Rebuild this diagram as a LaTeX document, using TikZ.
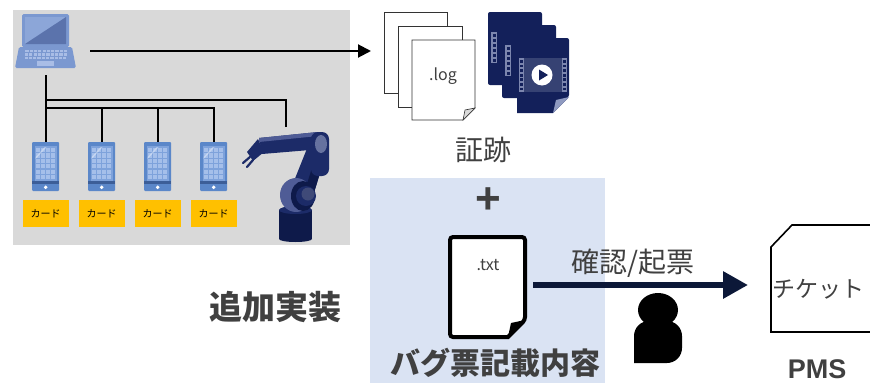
\documentclass[tikz,border=0pt]{standalone}
\usepackage{fontspec}
\setmainfont{Noto Sans CJK JP}
\newfontfamily\latinbold{Liberation Sans}
\usetikzlibrary{arrows.meta}

\definecolor{panelgray}{HTML}{D9D9D9}
\definecolor{panelblue}{HTML}{DAE3F3}
\definecolor{txtgray}{HTML}{404040}
\definecolor{lapmain}{HTML}{7B98D0}
\definecolor{lapdark}{HTML}{5B73AC}
\definecolor{laplight}{HTML}{8CA6D8}
\definecolor{lapkey}{HTML}{A9BDE6}
\definecolor{phmain}{HTML}{5B87C9}
\definecolor{phscreen}{HTML}{7EA2DB}
\definecolor{phcell}{HTML}{A5BFEA}
\definecolor{phstrip}{HTML}{3C5E98}
\definecolor{cardorange}{HTML}{FFC000}
\definecolor{vidnavy}{HTML}{13205A}
\definecolor{vidstrip}{HTML}{7C86AE}
\definecolor{vidfold}{HTML}{8F9AC0}
\definecolor{arrnavy}{HTML}{0C1838}
\definecolor{robdark}{HTML}{0E1A4A}
\definecolor{robmid}{HTML}{1C2B68}
\definecolor{robhi}{HTML}{4F5C96}
\definecolor{roblight}{HTML}{66729F}

\tikzset{
  wire/.style={line width=2pt, black},
  phone/.style={draw=none, fill=phmain, rounded corners=1pt, minimum width=27pt, minimum height=49pt, inner sep=0pt},
  card/.style={fill=cardorange, minimum width=46pt, minimum height=27pt, inner sep=0pt,
    font=\fontsize{10}{12}\selectfont, text=black},
  logdoc/.style={draw=black!80, line width=0.9pt, fill=white},
  label/.style={text=txtgray, inner sep=0pt},
}

\begin{document}
\begin{tikzpicture}[x=1pt,y=-1pt]
\useasboundingbox (0,0) rectangle (870,383);

% background panels
\fill[panelgray] (13,10) rectangle (350,245);
\fill[panelblue] (370,178) rectangle (605,383);

% ---------- laptop ----------
\fill[lapmain, rounded corners=1.5pt] (22,14) rectangle (69,47);
\fill[laplight] (25,17) rectangle (66,44);
\fill[lapdark] (25,44) -- (66,17) -- (66,44) -- cycle;
\fill[lapmain, rounded corners=1.5pt] (19,47) -- (72,47) -- (76,68) -- (15,68) -- cycle;
\foreach \r in {0,1,2} {
  \foreach \c in {0,...,9} {
    \fill[lapkey] ({24.5+\c*4.3+(2-\r)*0.4}, {50+\r*3.3}) rectangle ++(3.2,2.3);
  }
}
\fill[lapkey] (37,61) rectangle (54,66);
\coordinate (lapS) at (45.7,75);
\coordinate (lapR) at (90,51);

% ---------- tablets ----------
\foreach \n/\x in {1/45.7, 2/101.7, 3/157.7, 4/213.7} {
  \node[phone] (ph\n) at (\x,166.5) {};
  \fill[phscreen] (\x-11,146) rectangle (\x+11,181);
  \foreach \rr in {0,...,5} {
    \foreach \cc in {0,...,3} {
      \fill[phcell] ({\x-10+\cc*5.2}, {148+\rr*5.4}) rectangle ++(4,4.2);
    }
  }
  \fill[white, opacity=0.35] (\x-10,157) -- (\x-1,147) -- (\x+1,147) -- (\x-10,159) -- cycle;
  \fill[phstrip] (\x-13.5,181) rectangle (\x+13.5,183.5);
  \fill[white] (\x,187.3) circle (1.9);
  \node[card] (card\n) at (\x,213.5) {カード};
}

% ---------- robot arm ----------
% base
\fill[robdark] (279,210) rectangle (312,239);
\fill[robdark] (295.5,239) ellipse (16.5 and 3);
\fill[robmid] (295.5,210) ellipse (16.5 and 4);
% lower arm
\fill[robmid] (292,186) -- (310,141) -- (327,150) -- (313,196) -- cycle;
\fill[robdark] (305,190) -- (319,146) -- (327,150) -- (313,196) -- cycle;
% upper arm
\fill[robmid] (259,138) -- (318,132) -- (322,149) -- (262,154) -- cycle;
\fill[robhi] (259,138) -- (318,132) -- (318,136) -- (259,142) -- cycle;
% upper joint
\fill[robmid, rounded corners=7pt] (311,132) rectangle (329,176);
\fill[roblight] (321,144) ellipse (6 and 9);
% lower joint
\fill[robhi] (296,195) ellipse (16 and 17);
\fill[robdark] (303,196) ellipse (12 and 15);
\fill[robmid] (306,196) circle (10);
\fill[robhi!80!black] (308,194) circle (6.5);
% wrist and gripper
\fill[robmid] (258,139) -- (264,152) -- (253,161) -- (247,152) -- cycle;
\draw[robmid, line width=2.2pt, line cap=round] (250,157) -- (243,163);
\draw[robmid, line width=2.2pt, line cap=round] (253,160) -- (247,167);
\coordinate (robT) at (286,127);

% ---------- wiring ----------
\coordinate (bus1) at (45.7,100);
\coordinate (bus2) at (45.7,108);
\draw[wire] (lapS) -- (ph1.north);
\draw[wire] (robT) |- (bus1);
\draw[wire] (ph4.north) |- (bus2);
\draw[wire] (ph2.north) -- (ph2.north |- bus2);
\draw[wire] (ph3.north) -- (ph3.north |- bus2);

% arrow to the evidence
\coordinate (evidIn) at (371,51);
\draw[wire, -{Triangle[length=13pt,width=13pt]}] (lapR) -- (evidIn);

% ---------- log files ----------
\draw[logdoc] (384,12) rectangle (447,93);
\draw[logdoc] (398,26) rectangle (462,107);
\draw[logdoc] (412,40) -- (475,40) -- (475,108) -- (463,120) -- (412,120) -- cycle;
\draw[logdoc, fill=black!15, line width=0.6pt] (475,108) -- (463,120) -- (465,110) -- cycle;
\node[inner sep=0pt, font=\fontsize{16}{18}\selectfont, text=txtgray] (logtxt) at (443,76) {.log};

% ---------- video files ----------
\foreach \dx/\dy in {0/0, 14/13} {
  \fill[vidnavy, rounded corners=2pt] (488+\dx,12+\dy) rectangle (542+\dx,85+\dy);
  \fill[vidstrip] (491+\dx,32+\dy) rectangle (497+\dx,63+\dy);
  \foreach \k in {0,...,5} { \fill[vidnavy] (492.5+\dx,34+\dy+\k*5) rectangle ++(3,3); }
}
\fill[vidnavy, rounded corners=2pt] (517,38) -- (569,38) -- (569,97) [sharp corners] -- (553,113) -- (517,113) -- cycle;
\fill[vidnavy!85!white] (524,58) rectangle (562,92);
\foreach \sx in {519,562} {
  \fill[vidstrip] (\sx,58) rectangle (\sx+5,92);
  \foreach \k in {0,...,6} { \fill[vidnavy] (\sx+1,60+\k*4.6) rectangle ++(3,2.8); }
}
\fill[vidfold] (569,97) -- (553,113) -- (556,100) -- cycle;
\fill[white] (542,75) circle (10.5);
\fill[vidnavy] (539,69.5) -- (548,75) -- (539,80.5) -- cycle;

\node[label, font=\fontsize{28}{30}\selectfont] (evid) at (483,150) {証跡};

% ---------- bug report ----------
\node[label, font=\latinbold\bfseries\fontsize{44}{46}\selectfont] (plus) at (488,201) {+};
\draw[black, line width=4pt, fill=white, rounded corners=3pt]
  (450,237) -- (525,237) -- (525,320) [sharp corners] -- (508,337) [rounded corners=3pt] -- (450,337) -- cycle;
\fill[black] (525,320) -- (508,337) -- (511,323) -- cycle;
\node[inner sep=0pt, font=\fontsize{16}{18}\selectfont, text=txtgray] (txttxt) at (488,265) {.txt};
\node[label, font=\fontsize{30}{32}\selectfont\bfseries] (bugtitle) at (495,363) {バグ票記載内容};

\node[label, font=\fontsize{33}{35}\selectfont\bfseries] (impl) at (275,307) {追加実装};

% ---------- check / file arrow ----------
\coordinate (bigS) at (533,285);
\coordinate (bigE) at (748,285);
\draw[arrnavy, line width=6pt, -{Triangle[length=25pt,width=26pt]}] (bigS) -- (bigE);
\node[label, font=\fontsize{28}{30}\selectfont] (confirm) at (633,263) {確認/起票};

% person
\fill[black] (658,310) ellipse (20 and 17);
\fill[black, rounded corners=15pt] (634,363) -- (634,321) -- (682,321) -- (682,363) [sharp corners] -- cycle;

% ---------- ticket ----------
\draw[black, line width=1.6pt, fill=white] (880,225) -- (792,225) -- (771,247) -- (771,332) -- (880,332);
\node[label, font=\fontsize{23}{25}\selectfont] (ticket) at (818,289) {チケット};
\node[label, font=\latinbold\bfseries\fontsize{27}{29}\selectfont] (pms) at (817,369) {PMS};

\end{tikzpicture}
\end{document}
